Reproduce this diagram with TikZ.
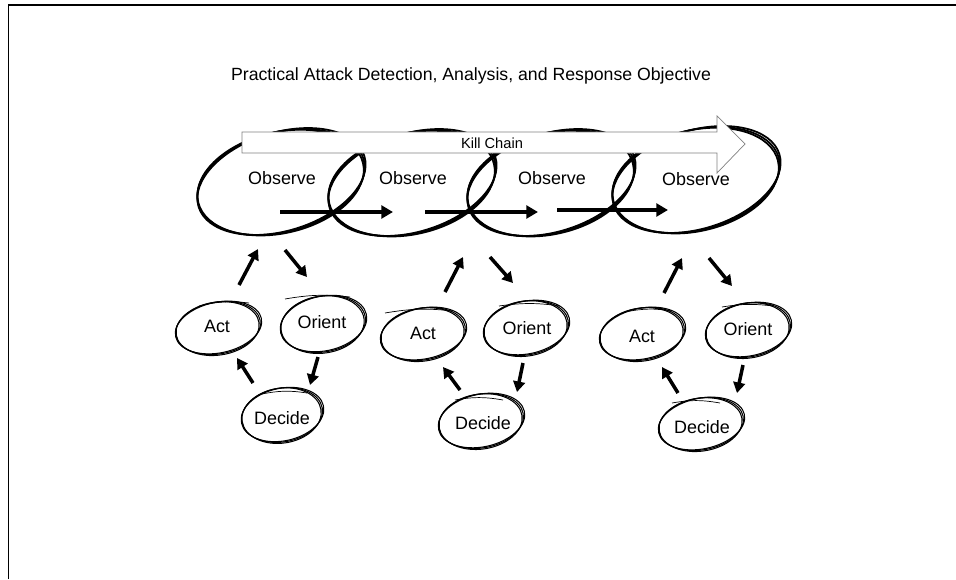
\documentclass[tikz,border=0pt]{standalone}
\usepackage{fontspec}
\setmainfont{Liberation Sans}
\usetikzlibrary{arrows.meta}
\newcommand\skellipse[6]{%
  \foreach \dr/\da/\dx/\dy in {0/0/0/0, 1/2/0.5/-0.5, -1/-1.5/-0.4/0.6}{%
    \pgfmathsetlengthmacro\rxl{(#3+\dr)*0.8504pt}%
    \pgfmathsetlengthmacro\ryl{(#4-\dr*0.6)*0.8504pt}%
    \draw[#6, rotate around={#5+\da:(#1+\dx,#2+\dy)}] (#1+\dx,#2+\dy) ellipse [x radius=\rxl, y radius=\ryl];
  }}
\begin{document}
\begin{tikzpicture}[x=0.03cm,y=-0.03cm,
  lbl/.style={inner sep=0pt, font=\fontsize{15.3pt}{18pt}\selectfont},
  ttl/.style={inner sep=0pt, font=\fontsize{15.1pt}{18pt}\selectfont},
  kcl/.style={inner sep=0pt, font=\fontsize{12.5pt}{15pt}\selectfont},
  sk/.style={line width=0.9pt, black},
  bigsk/.style={line width=1.5pt, black},
  tailstroke/.style={line width=0.6pt, black},
  flow/.style={line width=2.8pt, -{Triangle[length=10pt,width=11pt]}},
  ooda/.style={line width=3pt, -{Triangle[length=9pt,width=10pt]}},
  kcarrow/.style={draw=gray, line width=0.6pt, fill=white}]
\useasboundingbox (0,0) rectangle (956,579);
% frame
\draw[line width=1.7pt, line join=miter] (8.5,579) -- (8.5,5) -- (956,5);
% title
\node[ttl] (title) at (471,76) {Practical Attack Detection, Analysis, and Response Objective};
% observe loops
\skellipse{281}{182}{86}{50}{15}{bigsk}
\skellipse{412}{183}{86}{50}{15}{bigsk}
\skellipse{551}{183}{86}{50}{15}{bigsk}
\skellipse{696}{180}{86}{50}{15}{bigsk}
% kill chain arrow
\draw[kcarrow] (242,132) -- (717,132) -- (717,116) -- (745,144) -- (717,173) -- (717,153) -- (242,153) -- cycle;
\node[kcl] (kc) at (492,143) {Kill Chain};
% observe labels
\node[lbl] (obs1) at (282,178) {Observe};
\node[lbl] (obs2) at (413,178) {Observe};
\node[lbl] (obs3) at (552,178) {Observe};
\node[lbl] (obs4) at (696,179) {Observe};
% horizontal flow arrows
\coordinate (h1s) at (280,212); \coordinate (h1e) at (393,212);
\coordinate (h2s) at (425,212); \coordinate (h2e) at (538,212);
\coordinate (h3s) at (557,210); \coordinate (h3e) at (668,210);
\draw[flow] (h1s) -- (h1e);
\draw[flow] (h2s) -- (h2e);
\draw[flow] (h3s) -- (h3e);
% OODA groups: ellipses
\skellipse{218}{328}{43}{26}{10}{sk}
\skellipse{323}{324}{43}{28}{10}{sk}
\skellipse{282}{415}{41}{27}{10}{sk}
\skellipse{423}{334}{43}{26}{10}{sk}
\skellipse{526}{328}{43}{27}{10}{sk}
\skellipse{481}{421}{43}{27}{10}{sk}
\skellipse{642}{334}{43}{26}{10}{sk}
\skellipse{748}{330}{43}{27}{10}{sk}
\skellipse{701}{424}{43}{26}{10}{sk}
% top overshoot strokes
\draw[tailstroke] (199,306) to[bend left=10] (249,303);
\draw[tailstroke] (285,299) to[bend left=8] (350,297);
\draw[tailstroke] (262,394) to[bend left=10] (307,393);
\draw[tailstroke] (385,313) to[bend left=8] (453,311);
\draw[tailstroke] (499,306) to[bend left=8] (560,306);
\draw[tailstroke] (455,400) to[bend left=10] (503,400);
\draw[tailstroke] (625,312) to[bend left=10] (672,311);
\draw[tailstroke] (722,307) to[bend left=8] (773,306);
\draw[tailstroke] (672,403) to[bend left=10] (720,403);
% labels
\node[lbl] (act1) at (217,326) {Act};
\node[lbl] (ori1) at (322,322) {Orient};
\node[lbl] (dec1) at (282,418) {Decide};
\node[lbl] (act2) at (423,333) {Act};
\node[lbl] (ori2) at (527,328) {Orient};
\node[lbl] (dec2) at (483,423) {Decide};
\node[lbl] (act3) at (642,336) {Act};
\node[lbl] (ori3) at (748,329) {Orient};
\node[lbl] (dec3) at (702,427) {Decide};
% OODA arrows
\coordinate (u1s) at (239,285); \coordinate (u1e) at (258,249);
\coordinate (d1s) at (285,250); \coordinate (d1e) at (307,277);
\coordinate (od1s) at (318,357); \coordinate (od1e) at (310,385);
\coordinate (da1s) at (253,383); \coordinate (da1e) at (237,358);
\coordinate (u2s) at (445,292); \coordinate (u2e) at (463,257);
\coordinate (d2s) at (490,257); \coordinate (d2e) at (513,283);
\coordinate (od2s) at (523,363); \coordinate (od2e) at (517,392);
\coordinate (da2s) at (460,390); \coordinate (da2e) at (443,367);
\coordinate (u3s) at (664,293); \coordinate (u3e) at (682,258);
\coordinate (d3s) at (709,258); \coordinate (d3e) at (732,286);
\coordinate (od3s) at (743,365); \coordinate (od3e) at (737,393);
\coordinate (da3s) at (678,393); \coordinate (da3e) at (662,367);
\foreach \g in {1,2,3}{
  \draw[ooda] (u\g s) -- (u\g e);
  \draw[ooda] (d\g s) -- (d\g e);
  \draw[ooda] (od\g s) -- (od\g e);
  \draw[ooda] (da\g s) -- (da\g e);
}
\end{tikzpicture}
\end{document}
